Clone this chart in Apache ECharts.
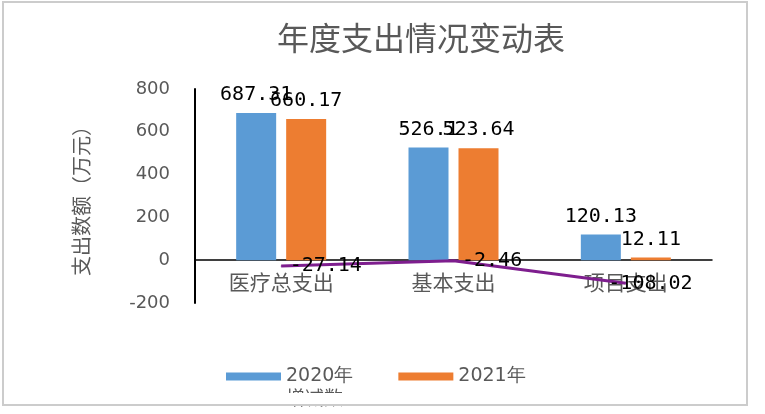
<!DOCTYPE html>
<html>
<head>
<meta charset="utf-8">
<script src="https://cdn.jsdelivr.net/npm/echarts@6/dist/echarts.min.js"></script>
<style>html,body{margin:0;padding:0;background:#fff}#c{width:765px;height:414px}</style>
</head>
<body>
<div id="c"></div>
<script>
var categories = ['医疗总支出', '基本支出', '项目支出'];
var values2020 = [687.31, 526.10, 120.13];
var values2021 = [660.17, 523.64, 12.11];
var valuesChange = [-27.14, -2.46, -108.02];
var seriesNames = ['2020年', '2021年', '增减数'];
var titleText = '年度支出情况变动表';
var yAxisName = '支出数额（万元）';

var chart = echarts.init(document.getElementById('c'));
var numFont = { fontFamily: 'DejaVu Sans Mono', fontSize: 20, color: '#000' };
var changeData = valuesChange.map(function (v, i) {
  if (i === 2) return { value: v, label: { offset: [-26, 0] } };
  return v;
});
chart.setOption({
  animation: false,
  backgroundColor: '#fff',
  title: {
    text: titleText, left: 272, top: 17,
    textStyle: { fontFamily: 'Noto Sans CJK SC', fontSize: 32, fontWeight: 'normal', color: '#595959' }
  },
  grid: { left: 195, right: 53, top: 89, bottom: 111 },
  xAxis: {
    type: 'category', data: categories,
    axisLine: { onZero: true, lineStyle: { color: '#000', width: 1.5 } },
    axisTick: { show: false },
    axisLabel: { margin: -31, fontFamily: 'Noto Sans CJK SC', fontSize: 21, color: '#595959' }
  },
  yAxis: {
    type: 'value', min: -200, max: 800, interval: 200,
    name: yAxisName, nameLocation: 'middle', nameGap: 104,
    nameTextStyle: { fontFamily: 'Noto Sans CJK SC', fontSize: 20, color: '#595959' },
    axisLine: { show: true, lineStyle: { color: '#000', width: 2 } },
    axisTick: { show: false },
    splitLine: { show: false },
    axisLabel: { margin: 25, fontFamily: 'DejaVu Sans', fontSize: 18, color: '#595959' }
  },
  legend: [{
    data: [seriesNames[0], seriesNames[1]],
    left: 221, top: 362, itemGap: 45, itemWidth: 55, itemHeight: 8, icon: 'rect',
    textStyle: { fontFamily: 'DejaVu Sans', fontSize: 19, color: '#595959' }
  }, {
    data: [seriesNames[2]],
    left: 221, top: 383, itemWidth: 55, itemHeight: 3, icon: 'rect',
    textStyle: { fontFamily: 'Noto Sans CJK SC', fontSize: 19, color: '#595959' }
  }],
  series: [{
    name: seriesNames[0], type: 'bar', data: values2020, barWidth: 40, barGap: '25%',
    itemStyle: { color: '#5B9BD5' },
    label: Object.assign({ show: true, position: 'top', distance: 8 }, numFont)
  }, {
    name: seriesNames[1], type: 'bar', data: values2021, barWidth: 40,
    itemStyle: { color: '#ED7D31' },
    label: Object.assign({ show: true, position: 'top', distance: 8 }, numFont)
  }, {
    name: seriesNames[2], type: 'line', data: changeData,
    symbol: 'circle', symbolSize: 1, showSymbol: true,
    lineStyle: { color: '#7E1E8E', width: 3 }, itemStyle: { color: '#7E1E8E' },
    label: Object.assign({ show: true, position: 'right', distance: 8 }, numFont),
    z: 5
  }],
  graphic: [{
    type: 'rect', z: 100, silent: true,
    shape: { x: 150, y: 393, width: 420, height: 11 },
    style: { fill: '#fff' }
  }, {
    type: 'rect', z: 101, silent: true,
    shape: { x: 3, y: 2, width: 744, height: 403 },
    style: { fill: 'none', stroke: '#cccccc', lineWidth: 2 }
  }]
});
</script>
</body>
</html>
